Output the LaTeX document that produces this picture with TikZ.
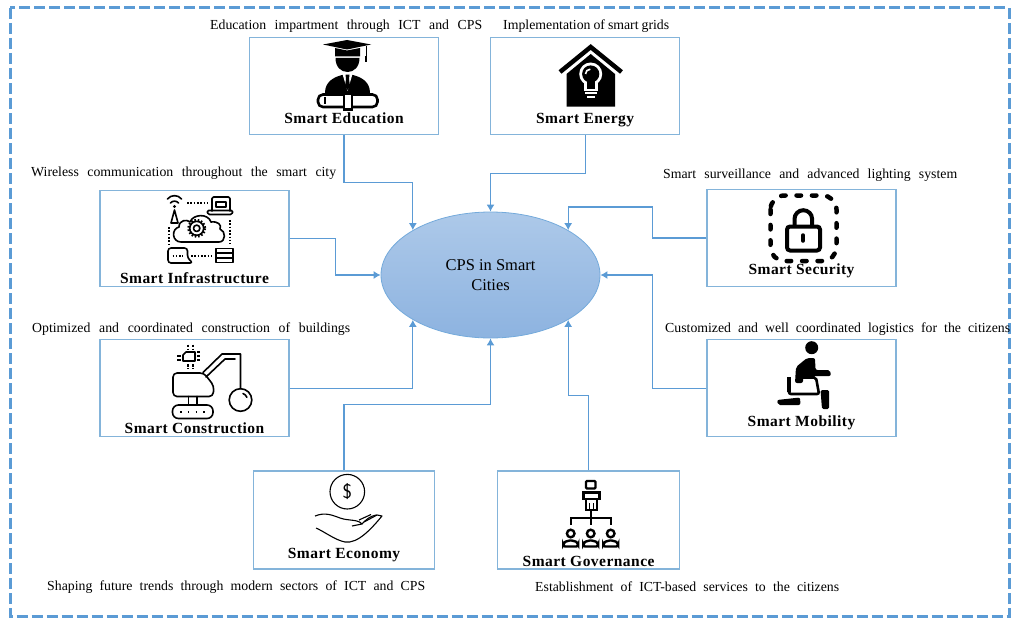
\documentclass[tikz,border=0pt]{standalone}
\usepackage{fontspec}
\setmainfont{Liberation Serif}
\newfontfamily\titlefont[LetterSpace=3]{Liberation Serif}
\usetikzlibrary{arrows.meta,positioning,shapes.geometric}

\definecolor{linkblue}{HTML}{5B9BD5}
\definecolor{cardblue}{HTML}{84B4DA}
\definecolor{hubtop}{HTML}{ADC9E9}
\definecolor{hubbottom}{HTML}{8DB3E0}

\tikzset{
  card/.style={draw=cardblue,line width=1.1pt,fill=white,minimum width=189pt,minimum height=96.5pt,inner sep=0pt},
  cardlow/.style={card,minimum width=181.5pt,minimum height=98pt},
  hubnode/.style={ellipse,draw=linkblue!85,line width=.8pt,top color=hubtop,bottom color=hubbottom,minimum width=219pt,minimum height=126pt,align=center,inner sep=0pt,font=\fontsize{16.5}{20}\selectfont},
  link/.style={draw=linkblue,line width=1.2pt,-{Latex[length=7pt,width=8pt]}},
  cardtitle/.style={inner sep=0pt,text height=10pt,text depth=3pt,font=\titlefont\bfseries\fontsize{15.5}{16}\selectfont},
  note/.style={inner sep=0pt,anchor=west,font=\fontsize{13.8}{16}\selectfont},
  icon/.style={line width=1.6pt,line cap=round,line join=round},
  dots/.style={line width=2pt,dash pattern=on 1.6pt off 1.7pt}
}
\newcommand{\notetext}[2]{\makebox[#1pt][s]{#2}}

\begin{document}
\begin{tikzpicture}[x=1pt,y=-1pt]
    \useasboundingbox (0,0) rectangle (1011,618);
    \draw[linkblue,line width=3pt,dash pattern=on 11pt off 4pt] (10,8) rectangle (1009,616.5);

    \node[hubnode] (hub) at (490.5,275) {CPS in Smart\\Cities};

    \node[card] (edu) at (344,86) {};
    \node[card] (energy) [right=51pt of edu] {};
    \node[card] (infra) at (194.5,238.5) {};
    \node[card] (cons) [below=52pt of infra] {};
    \node[card] (sec) at (801.5,238) {};
    \node[card] (mob) [below=52.5pt of sec] {};
    \node[cardlow] (econ) at (344,520) {};
    \node[cardlow] (gov) [right=62pt of econ] {};

    \node[cardtitle] (edutitle) at ([yshift=14.4pt]edu.south) {Smart Education};
    \node[cardtitle] (energytitle) at ([yshift=14.4pt]energy.south) {Smart Energy};
    \node[cardtitle] (infratitle) at ([yshift=7.8pt]infra.south) {Smart Infrastructure};
    \node[cardtitle] (constitle) at ([yshift=6.7pt]cons.south) {Smart Construction};
    \node[cardtitle] (sectitle) at ([yshift=15.4pt]sec.south) {Smart Security};
    \node[cardtitle] (mobtitle) at ([yshift=14.4pt]mob.south) {Smart Mobility};
    \node[cardtitle] (econtitle) at ([yshift=14.2pt]econ.south) {Smart Economy};
    \node[cardtitle] (govtitle) at ([yshift=6.5pt]gov.south) {Smart Governance};

    \node[note] (edunote) at (210,26) {\notetext{272}{Education impartment through ICT and CPS}};
    \node[note] (energynote) at (503,26) {\notetext{166}{Implementation of smart grids}};
    \node[note] (infranote) at (31,173) {\notetext{305}{Wireless communication throughout the smart city}};
    \node[note] (consnote) at (32,329) {\notetext{318}{Optimized and coordinated construction of buildings}};
    \node[note] (secnote) at (663,175) {\notetext{294}{Smart surveillance and advanced lighting system}};
    \node[note] (mobnote) at (665,329) {\notetext{345}{Customized and well coordinated logistics for the citizens}};
    \node[note] (econnote) at (47,587) {\notetext{378}{Shaping future trends through modern sectors of ICT and CPS}};
    \node[note] (govnote) at (535,587) {\notetext{304}{Establishment of ICT-based services to the citizens}};

    \path[link] (edu.south) -- ++(0,48) -| (hub.150);
    \path[link] (energy.south) -- ++(0,39) -| (hub.north);
    \path[link] (infra.east) -- ++(46,0) |- (hub.west);
    \path[link] (cons.east) -| (hub.210);
    \path[link] (sec.west) -- ++(-54,0) -- ++(0,-31) -| (hub.30);
    \path[link] (mob.west) -- ++(-54,0) |- (hub.east);
    \path[link] (econ.north) -- ++(0,-66) -| (hub.south);
    \path[link] (gov.north) -- ++(0,-75) -| (hub.330);

    % education
    \fill (323,44.5) -- (347,40) -- (371,44.5) -- (347,49.5) -- cycle;
    \fill (335,48) -- (347,50.5) -- (360,48) -- (360,56.5) -- (335,56.5) -- cycle;
    \fill (335.5,58) -- (359.5,58) .. controls (359.5,67) and (354,72) .. (347.5,72) .. controls (341,72) and (335.5,67) .. (335.5,58) -- cycle;
    \draw[line width=.8pt] (366,46) -- (366,56);
    \draw[line width=2pt] (366,56) -- (366,62.5);
    \fill (325,93) .. controls (325,82) and (333,77) .. (344,74.5) -- (347.5,90) -- (351,74.5) .. controls (362,77) and (370,82) .. (370,93) -- cycle;
    \fill[white] (342.5,74) -- (352.5,74) -- (347.5,91) -- cycle;
    \fill (345.5,74.5) -- (349.5,74.5) -- (349,79) -- (350,86) -- (347.5,90) -- (345,86) -- (346,79) -- cycle;
    \draw[line width=2.6pt,rounded corners=5pt,fill=white] (318,94.5) rectangle (377.5,107);
    \draw[line width=1.6pt] (325,97) -- (325,104);
    \fill (343,92) rectangle (353,111);
    \fill[white] (345,95) rectangle (351,108);

    % energy
    \draw[line width=4.5pt,line join=miter] (560,72) -- (590.7,47) -- (621.5,72);
    \fill (590.7,54) -- (615,74) -- (615,106.5) -- (566.5,106.5) -- (566.5,74) -- cycle;
    \fill[white] (590.7,74) circle (11.5);
    \fill[white] (584,80) rectangle (597.5,91);
    \fill (590.7,74) circle (8.6);
    \fill (586.5,78) rectangle (595,88.5);
    \draw[white,line width=1.6pt] (585.5,74) arc (180:270:4.8);
    \draw[white,line width=2pt] (585,92.5) -- (596.5,92.5);
    \draw[white,line width=2pt] (587,96.5) -- (594.5,96.5);

    % infrastructure
    \draw[icon] (167.5,199) .. controls (171,194.5) and (178,194.5) .. (181.5,199);
    \draw[icon] (170.5,203) .. controls (172.5,200.5) and (176.5,200.5) .. (178.5,203);
    \fill (174.5,206.5) circle (1.6);
    \draw[icon] (174.5,210) -- (171,223) -- (178,223) -- cycle;
    \draw[dots] (187,202.5) -- (207,202.5);
    \draw[icon,rounded corners=1.5pt] (212,211) -- (212,197) -- (230,197) -- (230,211);
    \draw[icon] (216,202) rectangle (226,207);
    \draw[icon,rounded corners=1.5pt] (207,210.5) -- (233,210.5) -- (232,214.5) -- (208,214.5) -- cycle;
    \draw[icon] (181,242) .. controls (172,242) and (171,229) .. (179,227) .. controls (179,220) and (187,219) .. (190,222) .. controls (193,214) and (208,213) .. (211,222) .. controls (218,221) and (222,225) .. (220,229) .. controls (226,231) and (226,242) .. (219,242) -- cycle;
    \draw[line width=3pt,dash pattern=on 1.6pt off 1.6pt] (196.7,228.3) circle (8);
    \draw[icon] (196.7,228.3) circle (7);
    \draw[icon] (196.7,228.3) circle (3.2);
    \draw[dots] (169,227) -- (169,246);
    \draw[dots] (230,220) -- (230,244);
    \draw[icon,rounded corners=3pt] (193,263) -- (168,263) -- (168,248) -- (187.5,248) -- (187.5,258) -- cycle;
    \draw[dots] (172.5,255.5) -- (183,255.5);
    \draw[dots] (191,255.7) -- (212,255.7);
    \draw[icon] (216,248.5) rectangle (233,262.5);
    \draw[icon] (216,253) -- (233,253) (216,258) -- (233,258);

    % construction
    \draw[icon] (186,352) -- (195,352) -- (195,361) -- (183,361) -- (183,355) -- cycle;
    \draw[line width=1.2pt,dash pattern=on 2.5pt off 1.5pt] (188,344.5) -- (188,349) (193,344.5) -- (193,349) (188,364) -- (188,368.5) (193,364) -- (193,368.5);
    \draw[line width=1.2pt] (177,356) -- (181,356) (177,360) -- (181,360) (197,352) -- (200,352) (197,356) -- (200,356) (197,360) -- (200,360);
    \draw[icon,rounded corners=4pt] (173,373) -- (204,373) -- (214,386) -- (213,396.5) -- (173,396.5) -- cycle;
    \draw[icon] (203,372.5) -- (222,354) -- (240.5,354) -- (240.5,388.5);
    \draw[icon] (206,377) -- (225,359) -- (235,359);
    \draw[icon] (240.5,400) circle (11.3);
    \draw[icon] (243,393.5) arc (-70:-20:6.5);
    \draw[icon] (188.5,396.5) -- (188.5,405) (197,396.5) -- (197,405);
    \draw[icon,rounded corners=6pt] (172.5,405) rectangle (213,418.5);
    \draw[line width=1.8pt,dash pattern=on 1.6pt off 6.2pt] (180,411.7) -- (207,411.7);

    % security
    \draw[line width=4.5pt,line cap=round,rounded corners=14pt,dash pattern=on 4.5pt off 10.9pt] (770.5,195.5) rectangle (836.5,261);
    \draw[line width=4pt,rounded corners=3pt] (787,226.5) rectangle (820,250.5);
    \draw[line width=4pt] (794.5,226) -- (794.5,219) arc (180:360:8.8) -- (812.1,226);
    \draw[line width=3.5pt,line cap=round] (803,235) -- (803,241);

    % mobility
    \fill (811.7,347.7) circle (6.5);
    \fill[rounded corners=2pt] (796,367) -- (807,358) -- (815,358) -- (815.5,370) -- (830,370) -- (831,376) -- (803,376) -- (803,383) -- (795,383) -- cycle;
    \draw[line width=2.6pt,rounded corners=2pt] (803,377.5) -- (816,377.5) -- (819,394) -- (789,394) -- (789,377);
    \draw[line width=3.6pt] (789,377) -- (789,392);
    \fill[rounded corners=1.5pt] (820.5,390) -- (829,390) -- (829,409) -- (822,409) -- cycle;
    \fill[rounded corners=2pt] (777,400) -- (800,397.5) -- (800.5,405) -- (778,405) -- cycle;

    % economy
    \draw[line width=1.1pt] (347.3,491.7) circle (17.3);
    \node[inner sep=0pt,font=\sffamily\fontsize{20}{20}\selectfont] (dollar) at (347.3,491.7) {\$};
    \draw[line width=1.1pt,line join=round] (315,516) .. controls (325,512) and (332,515) .. (340,518) .. controls (348,521) and (358,519) .. (362,524) -- (352,526);
    \draw[line width=1.1pt,line join=round] (316,528) .. controls (325,532) and (335,540) .. (345,542) .. controls (358,544) and (372,528) .. (382,516) .. controls (376,513) and (368,517) .. (362,524);
    \draw[line width=1.1pt] (359,520) -- (371,514.5) (364,522) -- (377,515);

    % governance
    \draw[line width=2.4pt,rounded corners=1pt] (586,481) rectangle (595.5,488.5);
    \draw[line width=2.4pt] (583.5,492.5) -- (599.5,492.5) -- (599.5,499) -- (583.5,499) -- cycle;
    \draw[line width=2.4pt] (586,499) -- (586,510) -- (597,510) -- (597,499);
    \draw[line width=1.6pt] (589.5,503) -- (589.5,509) (593.5,503) -- (593.5,509);
    \draw[line width=2.2pt] (590.7,510) -- (590.7,525) (570.7,525) -- (570.7,518) -- (611.2,518) -- (611.2,525);
    \foreach \px in {570.7,590.7,610.7} {
      \draw[line width=2.4pt] (\px,533.5) circle (3.8);
      \draw[line width=2.4pt,rounded corners=2pt] (\px-7.5,546.5) -- (\px-7.5,543) -- (\px-3,540.5) -- (\px+3,540.5) -- (\px+7.5,543) -- (\px+7.5,546.5) -- cycle;
    }
\end{tikzpicture}
\end{document}
